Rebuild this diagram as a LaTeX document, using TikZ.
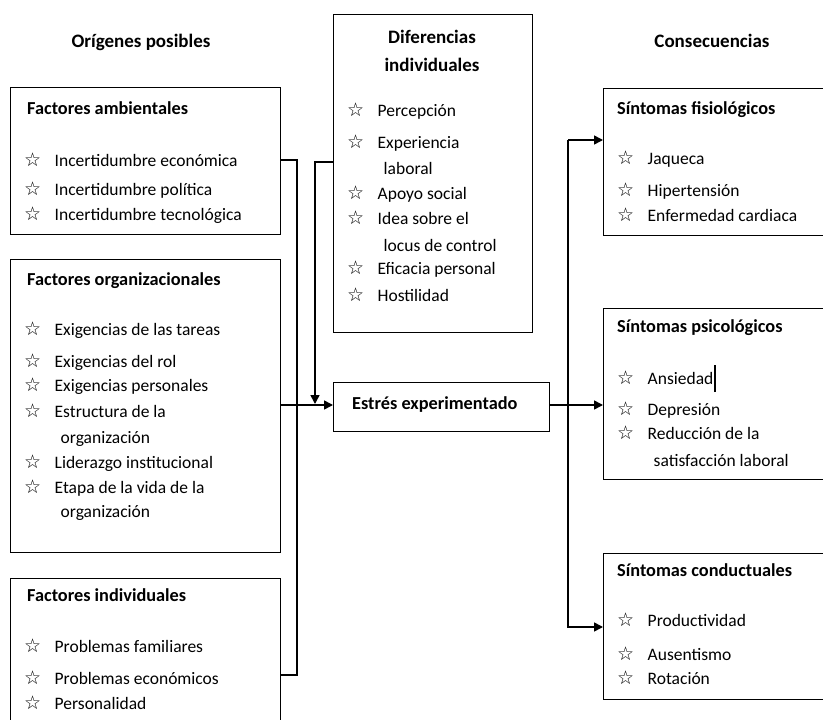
\documentclass[tikz,border=0pt]{standalone}
\usepackage{fontspec}
\setmainfont{Carlito}
\newfontfamily\symfont{DejaVu Sans Bold}
\usetikzlibrary{arrows.meta}
\newcommand\stx{\makebox[30.5pt][l]{\raisebox{-0.5pt}{\symfont\fontsize{19}{12}\selectfont ☆}}}
\newcommand\ctx{\hspace{36.5pt}}
\begin{document}
\begin{tikzpicture}[x=1pt,y=-1pt,
  box/.style={draw, line width=1.3pt, rectangle, anchor=north west, inner sep=0pt},
  hd/.style={anchor=base west, inner sep=0pt, font=\bfseries\fontsize{18.3}{20}\selectfont},
  ttl/.style={anchor=base, inner sep=0pt, font=\bfseries\fontsize{19}{21}\selectfont},
  it/.style={anchor=base west, inner sep=0pt, font=\fontsize{17.5}{19}\selectfont},
  ln/.style={line width=1.6pt},
  arr/.style={ln, -{Triangle[length=9pt,width=9pt]}}]
\path[use as bounding box, clip] (0,0) rectangle (823,720);
\fill[white] (0,0) rectangle (823,720);

% titles
\node[ttl] (t1) at (141,47) {Orígenes posibles};
\node[ttl] (t2) at (712,47) {Consecuencias};

% boxes
\node[box, minimum width=270pt, minimum height=147pt] (amb) at (10,87) {};
\node[box, minimum width=270pt, minimum height=293pt] (org) at (10,259) {};
\node[box, minimum width=270pt, minimum height=160pt] (ind) at (10,578) {};
\node[box, minimum width=199pt, minimum height=318pt] (dif) at (333,14) {};
\node[box, minimum width=216pt, minimum height=49pt] (est) at (333,382) {};
\node[box, minimum width=240pt, minimum height=147pt] (fis) at (603,88) {};
\node[box, minimum width=240pt, minimum height=171pt] (psi) at (603,308) {};
\node[box, minimum width=240pt, minimum height=146pt] (con) at (603,553) {};

% Factores ambientales
\node[hd] (hamb) at (27,114) {Factores ambientales};
\node[it] (a1) at (24,166) {\stx Incertidumbre económica};
\node[it] (a2) at (24,195) {\stx Incertidumbre política};
\node[it] (a3) at (24,220) {\stx Incertidumbre tecnológica};

% Factores organizacionales
\node[hd] (horg) at (27,285) {Factores organizacionales};
\node[it] (o1) at (24,335) {\stx Exigencias de las tareas};
\node[it] (o2) at (24,367) {\stx Exigencias del rol};
\node[it] (o3) at (24,391) {\stx Exigencias personales};
\node[it] (o4) at (24,417) {\stx Estructura de la};
\node[it] (o5) at (24,443) {\ctx organización};
\node[it] (o6) at (24,468) {\stx Liderazgo institucional};
\node[it] (o7) at (24,493) {\stx Etapa de la vida de la};
\node[it] (o8) at (24,517) {\ctx organización};

% Factores individuales
\node[hd] (hind) at (27,601) {Factores individuales};
\node[it] (i1) at (24,652) {\stx Problemas familiares};
\node[it] (i2) at (24,684) {\stx Problemas económicos};
\node[it] (i3) at (24,709) {\stx Personalidad};

% Diferencias individuales
\node[ttl] (hd1) at (432,43) {Diferencias};
\node[ttl] (hd2) at (432,71) {individuales};
\node[it] (d1) at (347,116) {\stx Percepción};
\node[it] (d2) at (347,148) {\stx Experiencia};
\node[it] (d3) at (347,174) {\ctx laboral};
\node[it] (d4) at (347,199) {\stx Apoyo social};
\node[it] (d5) at (347,224) {\stx Idea sobre el};
\node[it] (d6) at (347,251) {\ctx locus de control};
\node[it] (d7) at (347,274) {\stx Eficacia personal};
\node[it] (d8) at (347,301) {\stx Hostilidad};

% Estres
\node[hd] (hest) at (352,409) {Estrés experimentado};

% Sintomas fisiologicos
\node[hd] (hfis) at (617,114) {Síntomas fisiológicos};
\node[it] (f1) at (617,164) {\stx Jaqueca};
\node[it] (f2) at (617,196) {\stx Hipertensión};
\node[it] (f3) at (617,221) {\stx Enfermedad cardiaca};

% Sintomas psicologicos
\node[hd] (hpsi) at (617,332) {Síntomas psicológicos};
\node[it] (p1) at (617,384) {\stx Ansiedad};
\node[it] (p2) at (617,415) {\stx Depresión};
\node[it] (p3) at (617,439) {\stx Reducción de la};
\node[it] (p4) at (617,466) {\ctx satisfacción laboral};
\draw[line width=2pt] ([xshift=1.5pt,yshift=-8pt]p1.base east) -- ([xshift=1.5pt,yshift=19pt]p1.base east);

% Sintomas conductuales
\node[hd] (hcon) at (617,576) {Síntomas conductuales};
\node[it] (c1) at (617,626) {\stx Productividad};
\node[it] (c2) at (617,660) {\stx Ausentismo};
\node[it] (c3) at (617,684) {\stx Rotación};

% connectors
\coordinate (jl) at (297,160);
\draw[ln] (amb.east |- jl) -- (jl) -- (297,675) -- (ind.east |- 0,675);
\draw[arr] (org.east |- 0,405) -- (est.west |- 0,405);
\draw[arr] (dif.west |- 0,162) -- (315,162) -- (315,404);
\draw[arr] (est.east |- 0,405) -- (psi.west |- 0,405);
\coordinate (jr) at (568,140);
\draw[arr] (jr) -- (fis.west |- jr);
\draw[arr] (jr) -- (568,627) -- (con.west |- 0,627);
\end{tikzpicture}
\end{document}
